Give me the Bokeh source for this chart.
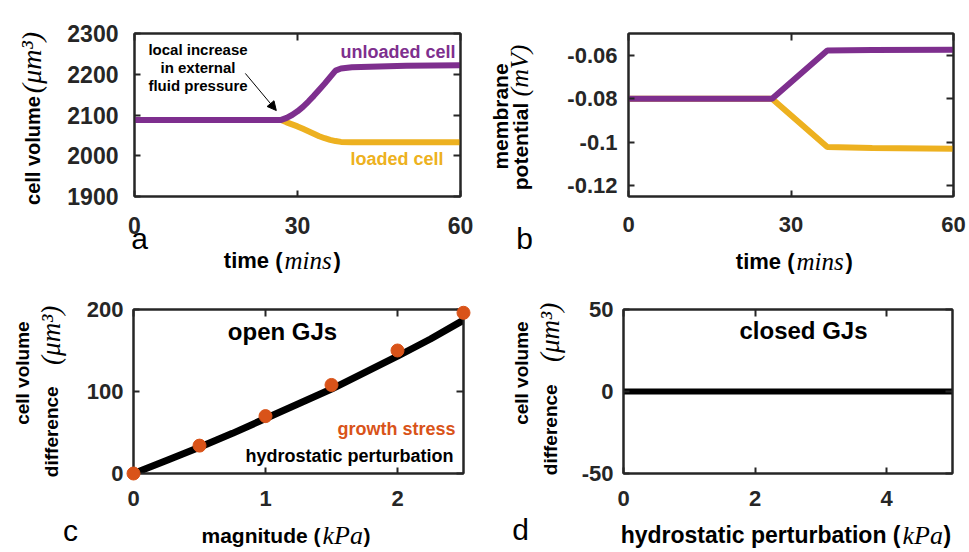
import math
from bokeh.plotting import figure
from bokeh.models import (LinearAxis, FixedTicker, PrintfTickFormatter,
                          Arrow, NormalHead, Range1d)
from bokeh.core.properties import value
from bokeh.layouts import column, row
from bokeh.embed import file_html
from bokeh.resources import INLINE

# ---------------- data ----------------
t_unloaded = [0, 10, 20, 27, 28, 29, 30, 31, 32, 33, 34, 35, 36, 37, 38, 40, 45, 50, 60]
vol_unloaded = [2088, 2088, 2088, 2088, 2093, 2100, 2109, 2120, 2133, 2147, 2162, 2177,
                2193, 2209, 2214, 2217, 2219, 2221, 2222]
t_loaded = [0, 10, 20, 27, 28, 29, 30, 31, 32, 33, 34, 35, 36, 37, 38, 40, 50, 60]
vol_loaded = [2088, 2088, 2088, 2088, 2082, 2077, 2072, 2066, 2060, 2054, 2048, 2043,
              2039, 2036, 2034, 2033, 2033, 2033]

t_vm = [0, 26.5, 36.7, 45, 60]
vm_unloaded = [-0.08, -0.08, -0.0578, -0.0576, -0.0575]
vm_loaded = [-0.08, -0.08, -0.1022, -0.1027, -0.1030]

mag_line = [0, 0.25, 0.5, 0.75, 1.0, 1.25, 1.5, 1.75, 2.0, 2.25, 2.5]
dv_hydro = [0, 16, 32, 49, 67, 85, 103, 123, 143, 164, 187]
mag_growth = [0, 0.5, 1.0, 1.5, 2.0, 2.5]
dv_growth = [0, 34, 70, 108, 150, 196]

p_closed = [0, 1, 2, 3, 4, 5]
dv_closed = [0, 0, 0, 0, 0, 0]

a_xticks = [0, 30, 60]
a_yticks = [1900, 2000, 2100, 2200, 2300]
b_xticks = [0, 30, 60]
b_yticks = [-0.12, -0.1, -0.08, -0.06]
c_xticks = [0, 1, 2]
c_yticks = [0, 100, 200]
d_xticks = [0, 2, 4]
d_yticks = [-50, 0, 50]

PURPLE = "#7E2F8E"
YELLOW = "#EDB120"
ORANGE = "#D95319"
AX = "#262626"
SANS = "Liberation Sans"
SERIF = "Liberation Serif"


def make_fig(ox, oy, w, h, box, xr, yr, xticks, yticks, tick_size, xstand, ystand):
    L, R, T, B = box
    p = figure(width=w, height=h, x_range=Range1d(*xr), y_range=Range1d(*yr),
               output_backend="svg", toolbar_location=None,
               min_border_left=L - ox, min_border_right=ox + w - R,
               min_border_top=T - oy, min_border_bottom=oy + h - B)
    p.xgrid.visible = False
    p.ygrid.visible = False
    p.outline_line_color = AX
    p.outline_line_width = 2
    fmt = PrintfTickFormatter(format="%g")
    for ax, ticks, stand in ((p.xaxis[0], xticks, xstand), (p.yaxis[0], yticks, ystand)):
        ax.ticker = FixedTicker(ticks=ticks)
        ax.formatter = fmt
        ax.axis_line_color = AX
        ax.axis_line_width = 2
        ax.major_tick_in = 6
        ax.major_tick_out = 0
        ax.major_tick_line_color = AX
        ax.major_tick_line_width = 2
        ax.minor_tick_line_color = None
        ax.major_label_text_font = SANS
        ax.major_label_text_font_style = "bold"
        ax.major_label_text_font_size = f"{tick_size}px"
        ax.major_label_text_color = AX
        ax.major_label_standoff = stand
    for ticks, place in ((xticks, "above"), (yticks, "right")):
        extra = LinearAxis(ticker=FixedTicker(ticks=ticks), major_tick_in=7, major_tick_out=0,
                           major_tick_line_color=AX, major_tick_line_width=2,
                           minor_tick_line_color=None, axis_line_color=AX, axis_line_width=2,
                           major_label_text_font_size="1px", major_label_text_color=None,
                           major_label_standoff=0)
        p.add_layout(extra, place)
    return p


def adder(p, box, xr, yr):
    L, R, T, B = box

    def lab(px, py, text, size, color="#000000", font=SANS, style="bold",
            align="center", angle=0.0):
        x = xr[0] + (px - L) / (R - L) * (xr[1] - xr[0])
        y = yr[0] + (B - py) / (B - T) * (yr[1] - yr[0])
        p.text(x=[x], y=[y], text=[text], text_font=value(font),
               text_font_style=value(style), text_font_size=value(f"{size}px"),
               text_color=color, text_align=value(align), text_baseline=value("middle"),
               angle=angle, level="overlay")
    return lab


V = math.pi / 2

# ---------------- panel a ----------------
box_a = (134, 460, 33, 196)
xr_a, yr_a = (0, 60), (1900, 2300)
pa = make_fig(0, 0, 480, 276, box_a, xr_a, yr_a, a_xticks, a_yticks, 23, 20, 16)
pa.line(t_loaded, vol_loaded, line_color=YELLOW, line_width=6)
pa.line(t_unloaded, vol_unloaded, line_color=PURPLE, line_width=6)
pa.add_layout(Arrow(end=NormalHead(size=9, fill_color="black", line_color="black", line_width=1),
                    x_start=20.4, y_start=2202, x_end=26.1, y_end=2111,
                    line_color="black", line_width=1))
la = adder(pa, box_a, xr_a, yr_a)
la(32, 150, "cell volume", 20, angle=V)
la(31, 62, "(\u03bcm\u00b3)", 28, font=SERIF, style="italic", angle=V)
la(282, 260, "time (", 22, align="right")
la(284, 260, "mins", 25, font=SERIF, style="italic", align="left")
la(333, 260, ")", 22, align="left")
la(197.5, 49, "local increase", 15)
la(197.5, 67, "in external", 15)
la(197.5, 85, "fluid pressure", 15)
la(455, 51, "unloaded cell", 18, color=PURPLE, align="right")
la(443, 158, "loaded cell", 18, color=YELLOW, align="right")
la(139, 238, "a", 30, style="normal")

# ---------------- panel b ----------------
box_b = (628, 953, 33, 196)
xr_b, yr_b = (0, 60), (-0.125, -0.05)
pb = make_fig(480, 0, 489, 276, box_b, xr_b, yr_b, b_xticks, b_yticks, 22, 20, 11)
pb.line(t_vm, vm_loaded, line_color=YELLOW, line_width=6)
pb.line(t_vm, vm_unloaded, line_color=PURPLE, line_width=6)
lb = adder(pb, box_b, xr_b, yr_b)
lb(500, 116, "membrane", 21, angle=V)
lb(520, 146, "potential", 21, angle=V)
lb(519, 70, "(mV)", 26, font=SERIF, style="italic", angle=V)
lb(794, 261, "time (", 22, align="right")
lb(796, 261, "mins", 25, font=SERIF, style="italic", align="left")
lb(845, 261, ")", 22, align="left")
lb(524, 238, "b", 30, style="normal")

# ---------------- panel c ----------------
box_c = (133, 463, 308, 473)
xr_c, yr_c = (0, 2.5), (0, 200)
pc = make_fig(0, 276, 480, 276, box_c, xr_c, yr_c, c_xticks, c_yticks, 22, 17, 10)
pc.line(mag_line, dv_hydro, line_color="black", line_width=7)
pc.scatter(mag_growth, dv_growth, size=13, fill_color=ORANGE, line_color=ORANGE, level="overlay")
lc = adder(pc, box_c, xr_c, yr_c)
lc(22, 372, "cell volume", 19, angle=V)
lc(51, 431, "difference", 19, angle=V)
lc(50, 334, "(\u03bcm\u00b3)", 27, font=SERIF, style="italic", angle=V)
lc(320, 535, "magnitude (", 21, align="right")
lc(322, 535, "kPa", 26, font=SERIF, style="italic", align="left")
lc(363, 535, ")", 21, align="left")
lc(282, 330, "open GJs", 24)
lc(455, 428, "growth stress", 18, color=ORANGE, align="right")
lc(453, 455, "hydrostatic perturbation", 18, align="right")
lc(70, 530, "c", 30, style="normal")

# ---------------- panel d ----------------
box_d = (623, 952, 309, 474)
xr_d, yr_d = (0, 5), (-50, 50)
pd_ = make_fig(480, 276, 489, 276, box_d, xr_d, yr_d, d_xticks, d_yticks, 22, 17, 10)
pd_.line(p_closed, dv_closed, line_color="black", line_width=6)
ld = adder(pd_, box_d, xr_d, yr_d)
ld(521, 373, "cell volume", 19, angle=V)
ld(550, 430, "difference", 19, angle=V)
ld(549, 332, "(\u03bcm\u00b3)", 27, font=SERIF, style="italic", angle=V)
ld(900, 536, "hydrostatic perturbation (", 23, align="right")
ld(902, 536, "kPa", 26, font=SERIF, style="italic", align="left")
ld(943, 536, ")", 23, align="left")
ld(803, 330, "closed GJs", 24)
ld(520, 530, "d", 30, style="normal")

layout = column(row(pa, pb), row(pc, pd_))
open("out.html", "w").write(file_html(layout, INLINE))
